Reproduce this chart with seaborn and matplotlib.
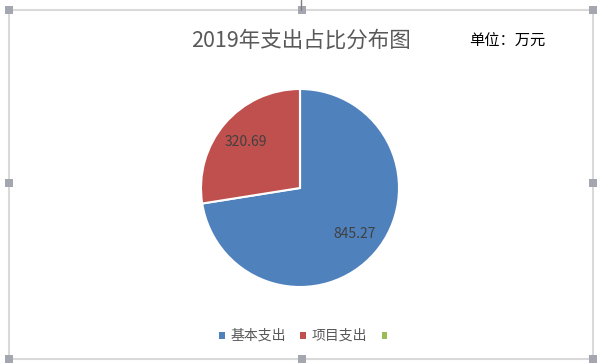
import matplotlib
matplotlib.use("Agg")
import matplotlib.pyplot as plt
from matplotlib.patches import Rectangle
from matplotlib.lines import Line2D
import seaborn as sns

# Spending data (unit: 10k yuan)
categories = ["基本支出", "项目支出", ""]
values = [845.27, 320.69, 0.0]
colors = ["#4F81BD", "#C0504D", "#9BBB59"]

title_text = "2019年支出占比分布图"
unit_text = "单位：万元"

sns.set_theme(style="white")
plt.rcParams["font.family"] = ["Noto Sans CJK SC", "DejaVu Sans"]

W, H = 600, 364
fig = plt.figure(figsize=(W / 100, H / 100), dpi=100)
fig.patch.set_facecolor("white")

# pie axes placed in pixel units
cx, cy, r = 300, 188, 100
ax = fig.add_axes([(cx - r) / W, (H - cy - r) / H, 2 * r / W, 2 * r / H])

palette = sns.color_palette(colors)
total = sum(values)


def fmt(pct):
    v = pct * total / 100.0
    return "" if v <= 0 else f"{v:.2f}"


wedges, _, autotexts = ax.pie(
    values,
    colors=palette,
    startangle=90,
    counterclock=False,
    autopct=fmt,
    pctdistance=0.72,
    wedgeprops=dict(edgecolor="white", linewidth=1.5),
    textprops=dict(color="#404040", fontsize=10),
)
ax.set_xlim(-1.01, 1.01)
ax.set_ylim(-1.01, 1.01)
ax.set_aspect("equal")
ax.axis("off")

fig.text(301 / W, 1 - 41 / H, title_text, ha="center", va="center",
         fontsize=15.5, color="#595959")
fig.text(507 / W, 1 - 41 / H, unit_text, ha="center", va="center",
         fontsize=11, color="black")

# legend keys drawn as small solid squares
handles = [Rectangle((0, 0), 1, 1, facecolor=c, edgecolor="none") for c in palette]
leg = fig.legend(
    handles, categories,
    loc="center", bbox_to_anchor=(306 / W, 1 - 336 / H),
    ncol=3, frameon=False, fontsize=10,
    handlelength=0.4, handleheight=0.4, handletextpad=0.4,
    columnspacing=1.05,
)
for t in leg.get_texts():
    t.set_color("#595959")

# chart-area frame with selection handles
x0, y0, x1, y1 = 9, 10, 593, 359
frame_color = "#D9D9D9"
fig.add_artist(Rectangle((x0 / W, 1 - y1 / H), (x1 - x0) / W, (y1 - y0) / H,
                         transform=fig.transFigure, fill=False,
                         edgecolor=frame_color, linewidth=1.5))
fig.add_artist(Line2D([301 / W, 301 / W], [1 - 0 / H, 1 - y0 / H],
                      transform=fig.transFigure, color="#7F7F7F", linewidth=1))
hs = 8
xm, ym = (x0 + x1) / 2 + 0.5, (y0 + y1) / 2 - 1
for hx, hy in [(x0, y0), (xm, y0), (x1, y0), (x0, ym), (x1, ym),
               (x0, y1), (xm, y1), (x1, y1)]:
    fig.add_artist(Rectangle(((hx - hs / 2) / W, 1 - (hy + hs / 2) / H),
                             hs / W, hs / H, transform=fig.transFigure,
                             facecolor="#A5A7B0", edgecolor="none"))

fig.savefig("out.png", dpi=100, facecolor="white")
